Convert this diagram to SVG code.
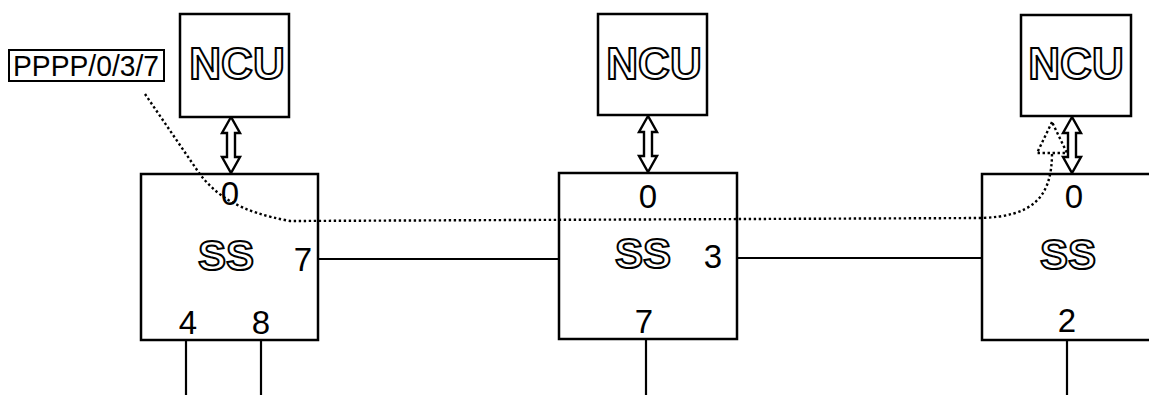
<svg xmlns="http://www.w3.org/2000/svg" width="1149" height="395" viewBox="0 0 1149 395">
<style>
.box{fill:#fff;stroke:#000;stroke-width:2.5}
.ncu{font-family:"Liberation Sans",Arial,sans-serif;font-weight:bold;font-size:44px;fill:#fff;stroke:#000;stroke-width:2;text-anchor:middle}
.ss{font-family:"Liberation Sans",Arial,sans-serif;font-weight:bold;font-size:42px;fill:#fff;stroke:#000;stroke-width:2;text-anchor:middle}
.port{font-family:"Liberation Sans",Arial,sans-serif;font-size:33px;fill:#000;text-anchor:middle}
.lbl{font-family:"Liberation Sans",Arial,sans-serif;font-size:30px;fill:#000}
.line{fill:none;stroke:#000;stroke-width:2.2}
.dbl{fill:#fff;stroke:#000;stroke-width:2.4;stroke-linejoin:miter}
.dot{fill:none;stroke:#000;stroke-width:2.4;stroke-dasharray:2.4 2.6}
</style>
<defs>
<polygon id="darrow" class="dbl" points="0,0 -9,16 -4,16 -4,40 -9,40 0,56 9,40 4,40 4,16 9,16"/>
</defs>
<g id="connectors">
<line class="line" x1="319" y1="259" x2="559" y2="259"/>
<line class="line" x1="737" y1="258" x2="982" y2="258"/>
<line class="line" x1="186" y1="340" x2="186" y2="395"/>
<line class="line" x1="261" y1="340" x2="261" y2="395"/>
<line class="line" x1="646" y1="339" x2="646" y2="395"/>
<line class="line" x1="1067" y1="340" x2="1067" y2="395"/>
<use href="#darrow" x="231" y="117"/>
<use href="#darrow" x="648" y="116"/>
<use href="#darrow" x="1072" y="117"/>
</g>
<g id="ncu1"><rect class="box" x="180" y="14" width="109" height="103"/><text class="ncu" x="237" y="79">NCU</text></g>
<g id="ncu2"><rect class="box" x="598" y="14" width="109" height="101"/><text class="ncu" x="654" y="79">NCU</text></g>
<g id="ncu3"><rect class="box" x="1021" y="15" width="110" height="101"/><text class="ncu" x="1076" y="79">NCU</text></g>
<g id="ss1"><rect class="box" x="141" y="174" width="177" height="166"/>
<text class="port" x="230" y="205">0</text>
<text class="ss" x="226" y="270">SS</text>
<text class="port" x="303" y="271">7</text>
<text class="port" x="188" y="334">4</text>
<text class="port" x="261" y="334">8</text></g>
<g id="ss2"><rect class="box" x="559" y="173" width="178" height="166"/>
<text class="port" x="648" y="208">0</text>
<text class="ss" x="643" y="268">SS</text>
<text class="port" x="713" y="268">3</text>
<text class="port" x="644" y="333">7</text></g>
<g id="ss3"><rect class="box" x="982" y="174" width="180" height="166"/>
<text class="port" x="1074" y="208">0</text>
<text class="ss" x="1068" y="269">SS</text>
<text class="port" x="1067" y="332">2</text></g>
<g id="label"><rect x="9" y="50" width="155" height="31" fill="#fff" stroke="#000" stroke-width="2"/>
<text class="lbl" x="13" y="76" textLength="146" lengthAdjust="spacingAndGlyphs">PPPP/0/3/7</text></g>
<g id="path">
<path class="dot" d="M145,94 L197,170 C215,196 240,212 290,221 L982,218 C1030,216 1052,200 1052,153"/>
<polygon class="dot" points="1052,122 1037,153 1067,153"/>
</g>
</svg>
